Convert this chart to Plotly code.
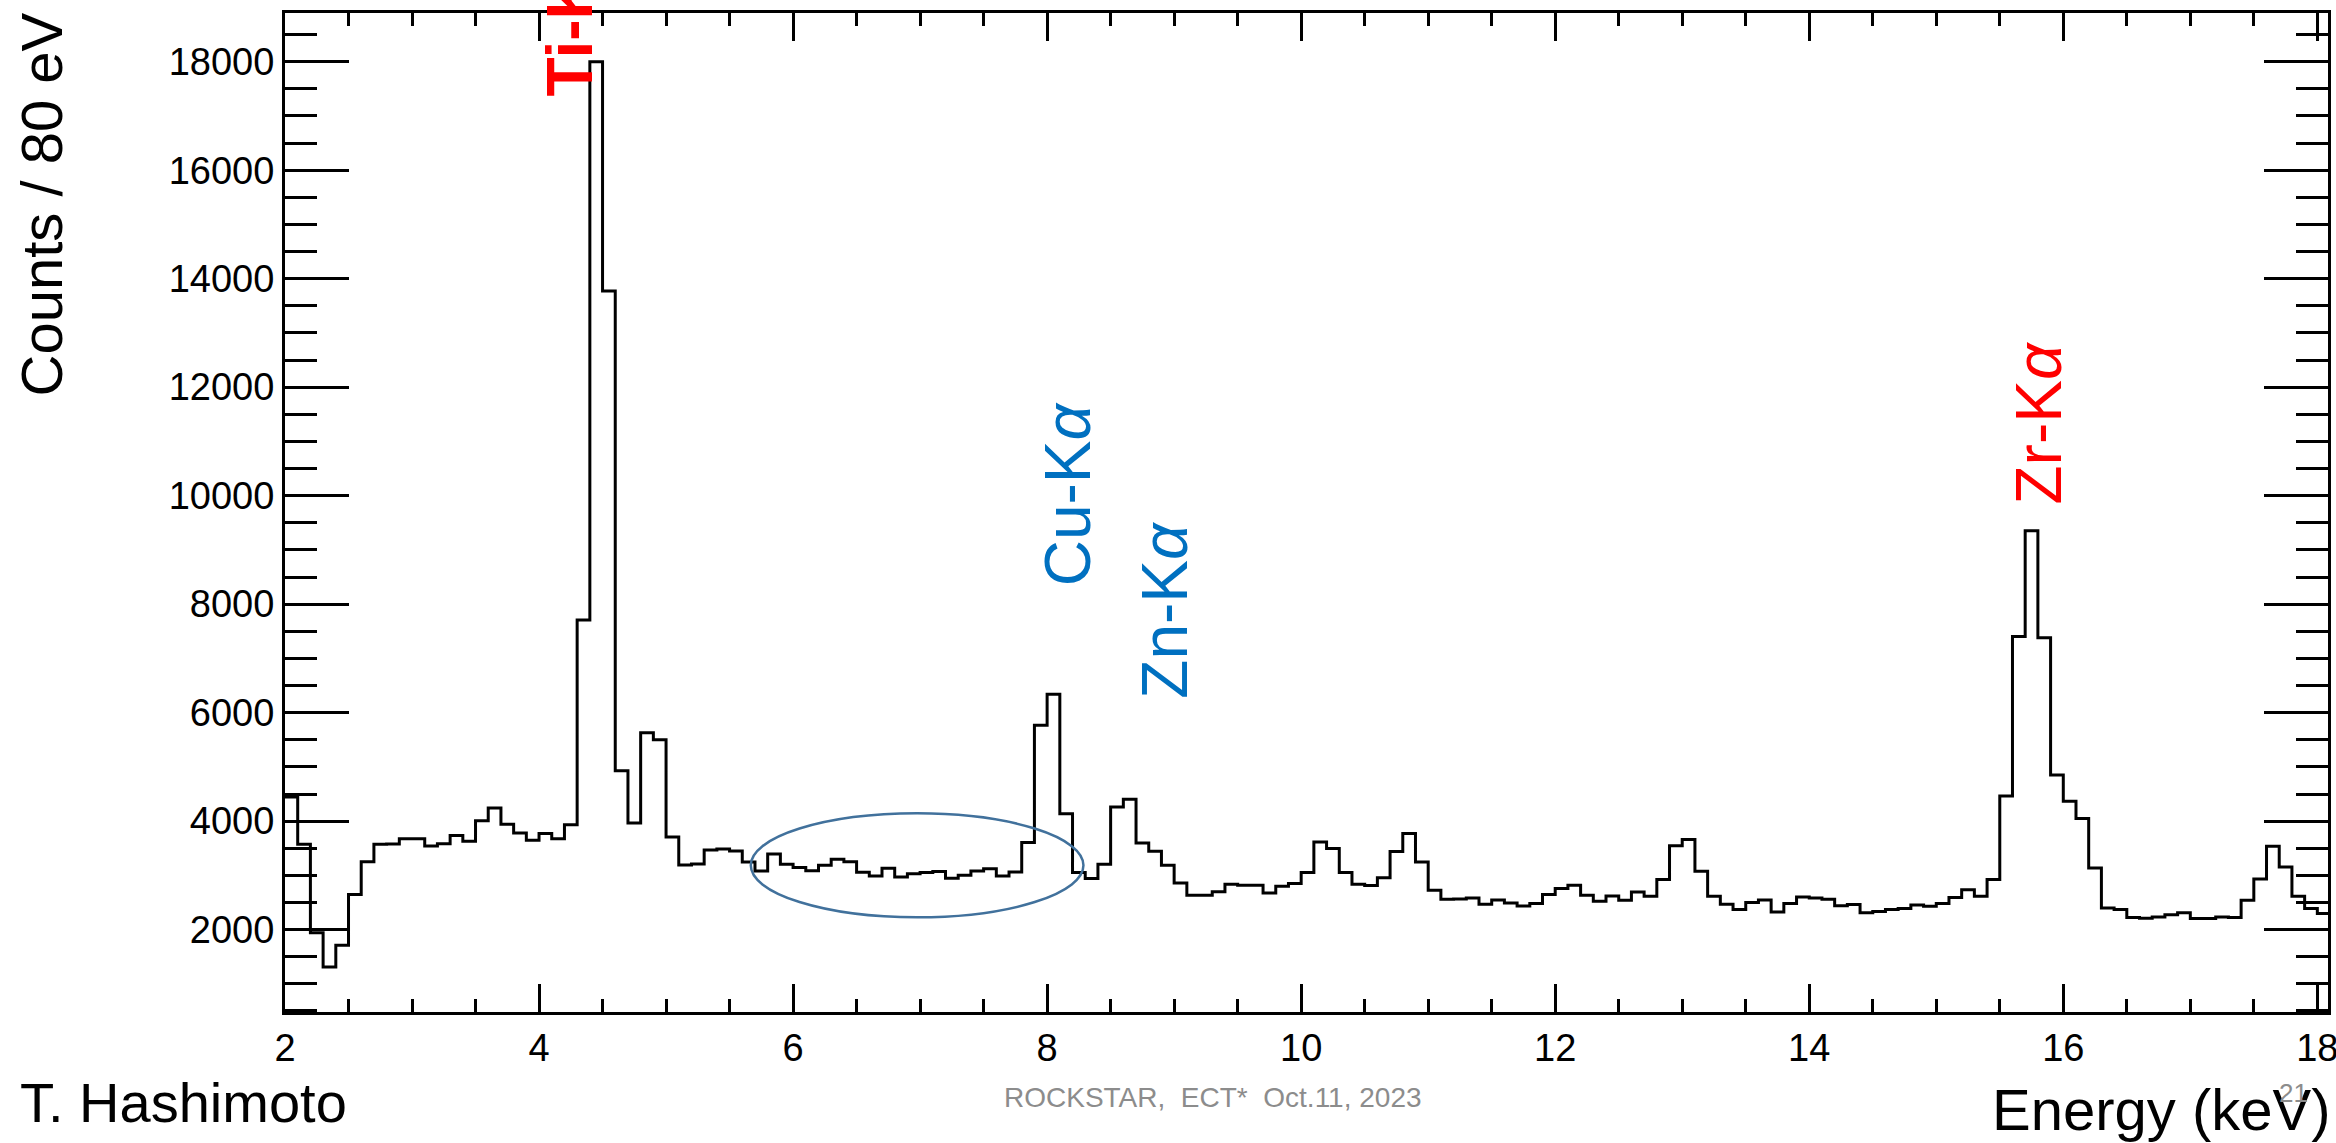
import plotly.graph_objects as go

# ---------------- data ----------------
bin_width = 0.1          # keV
x_start = 2.0
counts = [
    4445, 3573, 1940, 1312, 1711, 2645, 3253, 3573, 3580, 3677,
    3677, 3542, 3585, 3733, 3628, 4009, 4243, 3941, 3782, 3647,
    3770, 3677, 3935, 7708, 18000, 13775, 4930, 3966, 5631, 5502,
    3708, 3192, 3210, 3468, 3487, 3450, 3247, 3081, 3395, 3204,
    3143, 3087, 3186, 3296, 3253, 3057, 2989, 3130, 2971, 3032,
    3051, 3069, 2946, 3001, 3081, 3124, 2989, 3063, 3604, 5766,
    6338, 4138, 3051, 2940, 3204, 4261, 4402, 3597, 3444, 3186,
    2860, 2633, 2633, 2700, 2836, 2817, 2817, 2676, 2799, 2848,
    3051, 3616, 3493, 3051, 2836, 2811, 2958, 3438, 3770, 3247,
    2725, 2559, 2565, 2584, 2467, 2547, 2492, 2436, 2479, 2645,
    2756, 2817, 2633, 2522, 2620, 2541, 2694, 2614, 2922, 3548,
    3659, 3075, 2614, 2467, 2369, 2498, 2547, 2326, 2479, 2602,
    2584, 2559, 2442, 2461, 2313, 2332, 2369, 2387, 2455, 2430,
    2479, 2590, 2737, 2614, 2922, 4464, 7403, 9351, 7379, 4850,
    4365, 4046, 3137, 2399, 2369, 2221, 2209, 2233, 2276, 2313,
    2203, 2203, 2233, 2221, 2541, 2934, 3536, 3155, 2614, 2387,
    2295,
]
bin_edges = [round(x_start + bin_width * i, 2) for i in range(len(counts) + 1)]

x_ticks = [2, 4, 6, 8, 10, 12, 14, 16, 18]
y_ticks = [2000, 4000, 6000, 8000, 10000, 12000, 14000, 16000, 18000]

line_labels = ["<b>Ti-K<i>α</i></b>", "Cu-K<i>α</i>", "Zn-K<i>α</i>", "Zr-K<i>α</i>"]
label_x = [4.24, 8.16, 8.93, 15.81]
label_y = [17323, 8300, 6216, 9803]
label_colors = ["#FF0000", "#0070C0", "#0070C0", "#FF0000"]

ellipse_x = [5.667, 8.286]
ellipse_y = [2227, 4144]

x_range = [2.0, 18.084]
y_range = [481, 18898]

FONT = "Liberation Sans, Arial, Helvetica, sans-serif"

# ---------------- figure ----------------
fig = go.Figure()
fig.add_trace(go.Scatter(
    x=bin_edges,
    y=counts + [counts[-1]],
    mode="lines",
    line=dict(shape="hv", color="black", width=3),
    hoverinfo="skip",
    showlegend=False,
))

fig.add_shape(type="circle", xref="x", yref="y",
              x0=ellipse_x[0], x1=ellipse_x[1], y0=ellipse_y[0], y1=ellipse_y[1],
              line=dict(color="#41719C", width=2.5))

for txt, lx, ly, col in zip(line_labels, label_x, label_y, label_colors):
    fig.add_annotation(x=lx, y=ly, xref="x", yref="y", text=txt, showarrow=False,
                       textangle=-90, xanchor="center", yanchor="bottom",
                       font=dict(family=FONT, size=64, color=col))

# y axis title
fig.add_annotation(x=0, y=0.8084, xref="paper", yref="paper", xshift=-244,
                   text="Counts / 80 eV", showarrow=False, textangle=-90,
                   xanchor="center", yanchor="middle",
                   font=dict(family=FONT, size=58, color="black"))
# x axis title
fig.add_annotation(x=1.002, y=-0.098, xref="paper", yref="paper",
                   text="Energy (keV)", showarrow=False,
                   xanchor="right", yanchor="middle",
                   font=dict(family=FONT, size=58, color="black"))
# author
fig.add_annotation(x=-0.1307, y=-0.091, xref="paper", yref="paper",
                   text="T. Hashimoto", showarrow=False,
                   xanchor="left", yanchor="middle",
                   font=dict(family=FONT, size=56, color="black"))
# footer
fig.add_annotation(x=0.454, y=-0.086, xref="paper", yref="paper",
                   text="ROCKSTAR,  ECT*  Oct.11, 2023", showarrow=False,
                   xanchor="center", yanchor="middle",
                   font=dict(family=FONT, size=28, color="#8C8C8C"))
fig.add_annotation(x=0.983, y=-0.081, xref="paper", yref="paper",
                   text="21", showarrow=False,
                   xanchor="center", yanchor="middle",
                   font=dict(family=FONT, size=26, color="#8C8C8C"))

fig.update_xaxes(
    range=x_range, tickvals=x_ticks, ticktext=[str(v) for v in x_ticks],
    ticks="inside", ticklen=28, tickwidth=3, tickcolor="black",
    showline=True, linewidth=3, linecolor="black", mirror="allticks",
    showgrid=False, zeroline=False, ticklabeloverflow="allow", automargin=False,
    tickfont=dict(family=FONT, size=38, color="black"),
    minor=dict(dtick=0.5, tick0=0, ticks="inside", ticklen=13, tickwidth=3,
               tickcolor="black", showgrid=False),
)
fig.update_yaxes(
    range=y_range, tickvals=y_ticks, ticktext=[str(v) for v in y_ticks],
    ticks="inside", ticklen=64, tickwidth=3, tickcolor="black",
    showline=True, linewidth=3, linecolor="black", mirror="allticks",
    showgrid=False, zeroline=False, ticklabeloverflow="allow", automargin=False,
    tickfont=dict(family=FONT, size=38, color="black"),
    minor=dict(dtick=500, tick0=0, ticks="inside", ticklen=32, tickwidth=3,
               tickcolor="black", showgrid=False),
)

fig.update_layout(
    width=2336, height=1143, autosize=False,
    margin=dict(l=285, r=8, t=13, b=131, pad=0, autoexpand=False),
    plot_bgcolor="white", paper_bgcolor="white",
    showlegend=False,
)

fig.write_html("out.html")
